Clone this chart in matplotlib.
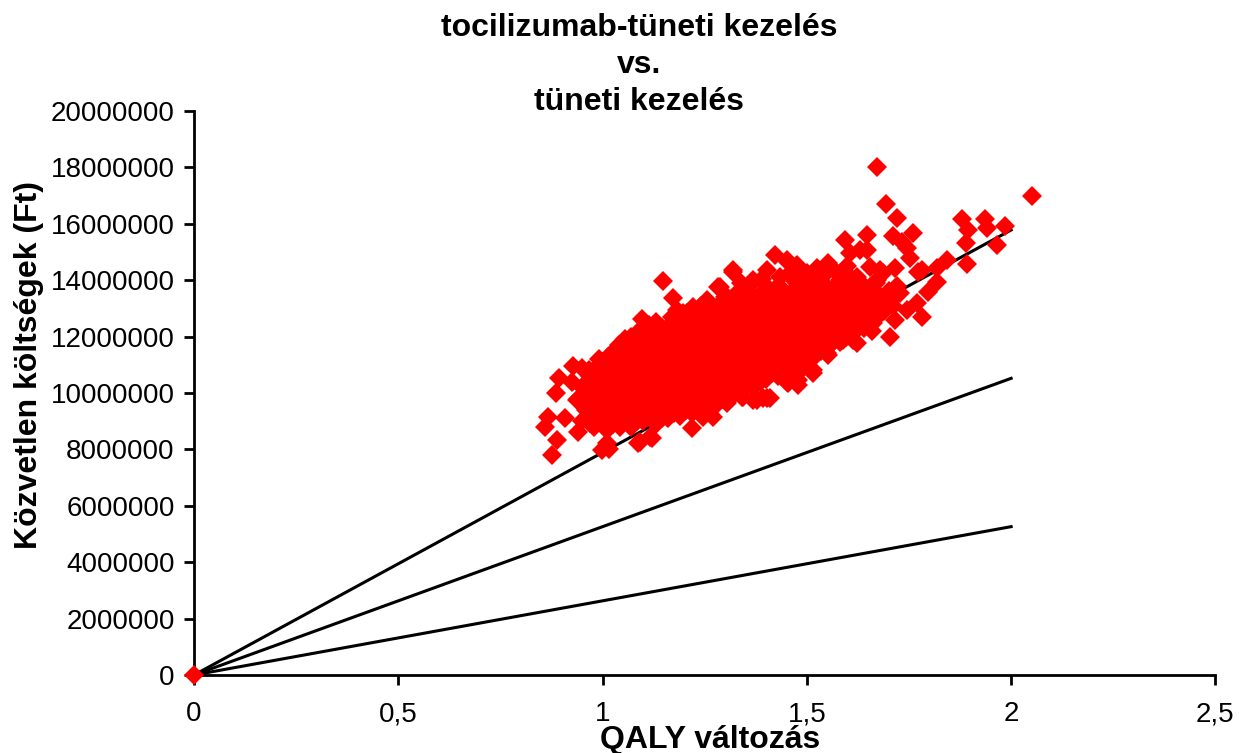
import numpy as np
import matplotlib
matplotlib.use("Agg")
import matplotlib.pyplot as plt

plt.rcParams['font.family'] = ['Liberation Sans', 'DejaVu Sans']

# QALY change (x) and direct cost in million Ft (y)
# dense middle of the cloud, column by column
core_qaly = [0.95, 0.96, 0.94, 0.95, 0.97, 0.95,
             0.98, 0.99, 0.98, 0.97, 0.99, 0.98, 0.99,
             1.01, 1.02, 1.00, 1.01, 1.02, 1.01, 1.00, 1.02,
             1.04, 1.05, 1.04, 1.03, 1.05, 1.04, 1.05, 1.04,
             1.07, 1.08, 1.07, 1.06, 1.08, 1.07, 1.08, 1.06, 1.07,
             1.10, 1.11, 1.10, 1.09, 1.11, 1.10, 1.11, 1.10, 1.09,
             1.13, 1.14, 1.13, 1.12, 1.14, 1.13, 1.12, 1.14, 1.13, 1.13,
             1.16, 1.17, 1.16, 1.15, 1.17, 1.16, 1.17, 1.15, 1.16, 1.17,
             1.19, 1.20, 1.19, 1.18, 1.20, 1.19, 1.18, 1.20, 1.19, 1.18,
             1.22, 1.23, 1.22, 1.21, 1.23, 1.22, 1.21, 1.23, 1.22, 1.23,
             1.25, 1.26, 1.25, 1.24, 1.26, 1.25, 1.24, 1.26, 1.25, 1.24,
             1.28, 1.29, 1.28, 1.27, 1.29, 1.28, 1.27, 1.29, 1.28, 1.29,
             1.31, 1.32, 1.31, 1.30, 1.32, 1.31, 1.30, 1.32, 1.31, 1.30,
             1.34, 1.35, 1.34, 1.33, 1.35, 1.34, 1.33, 1.35, 1.34, 1.35,
             1.37, 1.38, 1.37, 1.36, 1.38, 1.37, 1.36, 1.38, 1.37,
             1.40, 1.41, 1.40, 1.39, 1.41, 1.40, 1.39, 1.41, 1.40,
             1.43, 1.44, 1.43, 1.42, 1.44, 1.43, 1.42, 1.44, 1.43,
             1.46, 1.47, 1.46, 1.45, 1.47, 1.46, 1.45, 1.47, 1.46,
             1.49, 1.50, 1.49, 1.48, 1.50, 1.49, 1.48, 1.50,
             1.52, 1.53, 1.52, 1.51, 1.53, 1.52, 1.51, 1.53,
             1.55, 1.56, 1.55, 1.54, 1.56, 1.55, 1.54,
             1.58, 1.59, 1.58, 1.57, 1.59, 1.58,
             1.61, 1.62, 1.61, 1.60, 1.62,
             1.64, 1.65, 1.64, 1.63,
             1.68, 1.69, 1.67,
             1.71, 1.72]
core_cost = [9.0, 9.4, 9.8, 10.2, 10.6, 10.9,
             8.8, 9.2, 9.6, 10.0, 10.4, 10.8, 11.2,
             8.7, 9.1, 9.5, 9.9, 10.3, 10.7, 11.1, 11.4,
             8.9, 9.3, 9.7, 10.1, 10.5, 10.9, 11.3, 11.7,
             8.8, 9.2, 9.6, 10.0, 10.4, 10.8, 11.2, 11.6, 12.0,
             9.0, 9.4, 9.8, 10.2, 10.6, 11.0, 11.4, 11.8, 12.2,
             8.9, 9.3, 9.7, 10.1, 10.5, 10.9, 11.3, 11.7, 12.1, 12.5,
             9.1, 9.5, 9.9, 10.3, 10.7, 11.1, 11.5, 11.9, 12.3, 12.7,
             9.2, 9.6, 10.0, 10.4, 10.8, 11.2, 11.6, 12.0, 12.4, 12.8,
             9.3, 9.7, 10.1, 10.5, 10.9, 11.3, 11.7, 12.1, 12.5, 12.9,
             9.5, 9.9, 10.3, 10.7, 11.1, 11.5, 11.9, 12.3, 12.7, 13.1,
             9.6, 10.0, 10.4, 10.8, 11.2, 11.6, 12.0, 12.4, 12.8, 13.2,
             9.8, 10.2, 10.6, 11.0, 11.4, 11.8, 12.2, 12.6, 13.0, 13.4,
             10.1, 10.5, 10.9, 11.3, 11.7, 12.1, 12.5, 12.9, 13.3, 13.6,
             10.2, 10.6, 11.0, 11.4, 11.8, 12.2, 12.6, 13.0, 13.4,
             10.5, 10.9, 11.3, 11.7, 12.1, 12.5, 12.9, 13.3, 13.7,
             10.6, 11.0, 11.4, 11.8, 12.2, 12.6, 13.0, 13.4, 13.8,
             10.9, 11.3, 11.7, 12.1, 12.5, 12.9, 13.3, 13.7, 14.1,
             11.1, 11.5, 11.9, 12.3, 12.7, 13.1, 13.5, 13.9,
             11.3, 11.7, 12.1, 12.5, 12.9, 13.3, 13.7, 14.1,
             11.6, 11.9, 12.3, 12.7, 13.1, 13.5, 13.9,
             11.8, 12.2, 12.6, 13.0, 13.4, 13.8,
             12.1, 12.5, 12.9, 13.3, 13.7,
             12.3, 12.9, 13.4, 13.9,
             12.8, 13.3, 13.9,
             13.1, 13.8]

# more points of the dense middle, lying between the columns above
fill_qaly = [0.965, 0.962, 0.968, 0.964, 0.966,
             0.995, 0.993, 0.997, 0.994, 0.996, 0.995,
             1.025, 1.027, 1.023, 1.026, 1.024, 1.025, 1.027,
             1.055, 1.053, 1.057, 1.054, 1.056, 1.055, 1.053, 1.056,
             1.085, 1.087, 1.083, 1.086, 1.084, 1.085, 1.087, 1.084,
             1.115, 1.113, 1.117, 1.114, 1.116, 1.115, 1.113, 1.116, 1.114,
             1.145, 1.147, 1.143, 1.146, 1.144, 1.145, 1.147, 1.144, 1.146,
             1.175, 1.173, 1.177, 1.174, 1.176, 1.175, 1.173, 1.176, 1.174,
             1.205, 1.207, 1.203, 1.206, 1.204, 1.205, 1.207, 1.204, 1.206,
             1.235, 1.233, 1.237, 1.234, 1.236, 1.235, 1.233, 1.236, 1.234,
             1.265, 1.267, 1.263, 1.266, 1.264, 1.265, 1.267, 1.264, 1.266,
             1.295, 1.293, 1.297, 1.294, 1.296, 1.295, 1.293, 1.296, 1.294,
             1.325, 1.327, 1.323, 1.326, 1.324, 1.325, 1.327, 1.324, 1.326,
             1.355, 1.353, 1.357, 1.354, 1.356, 1.355, 1.353, 1.356,
             1.385, 1.387, 1.383, 1.386, 1.384, 1.385, 1.387, 1.384,
             1.415, 1.413, 1.417, 1.414, 1.416, 1.415, 1.413, 1.416,
             1.445, 1.447, 1.443, 1.446, 1.444, 1.445, 1.447, 1.444,
             1.475, 1.473, 1.477, 1.474, 1.476, 1.475, 1.473, 1.476,
             1.505, 1.507, 1.503, 1.506, 1.504, 1.505, 1.507,
             1.535, 1.533, 1.537, 1.534, 1.536, 1.535, 1.533,
             1.565, 1.567, 1.563, 1.566, 1.564, 1.565,
             1.595, 1.593, 1.597, 1.594, 1.596, 1.595,
             1.625, 1.627, 1.623, 1.626,
             1.655, 1.653, 1.657]
fill_cost = [9.2, 9.6, 10.0, 10.4, 10.8,
             9.0, 9.4, 9.8, 10.2, 10.6, 11.0,
             8.9, 9.3, 9.7, 10.1, 10.5, 10.9, 11.3,
             9.1, 9.5, 9.9, 10.3, 10.7, 11.1, 11.5, 11.9,
             9.0, 9.4, 9.8, 10.2, 10.6, 11.0, 11.4, 11.8,
             9.2, 9.6, 10.0, 10.4, 10.8, 11.2, 11.6, 12.0, 12.4,
             9.1, 9.5, 9.9, 10.3, 10.7, 11.1, 11.5, 11.9, 12.3,
             9.3, 9.7, 10.1, 10.5, 10.9, 11.3, 11.7, 12.1, 12.5,
             9.4, 9.8, 10.2, 10.6, 11.0, 11.4, 11.8, 12.2, 12.6,
             9.5, 9.9, 10.3, 10.7, 11.1, 11.5, 11.9, 12.3, 12.7,
             9.7, 10.1, 10.5, 10.9, 11.3, 11.7, 12.1, 12.5, 12.9,
             9.8, 10.2, 10.6, 11.0, 11.4, 11.8, 12.2, 12.6, 13.0,
             10.0, 10.4, 10.8, 11.2, 11.6, 12.0, 12.4, 12.8, 13.2,
             10.3, 10.7, 11.1, 11.5, 11.9, 12.3, 12.7, 13.1,
             10.4, 10.8, 11.2, 11.6, 12.0, 12.4, 12.8, 13.2,
             10.7, 11.1, 11.5, 11.9, 12.3, 12.7, 13.1, 13.5,
             10.8, 11.2, 11.6, 12.0, 12.4, 12.8, 13.2, 13.6,
             11.1, 11.5, 11.9, 12.3, 12.7, 13.1, 13.5, 13.9,
             11.3, 11.7, 12.1, 12.5, 12.9, 13.3, 13.7,
             11.5, 11.9, 12.3, 12.7, 13.1, 13.5, 13.9,
             11.8, 12.1, 12.5, 12.9, 13.3, 13.7,
             12.0, 12.4, 12.8, 13.2, 13.6, 14.0,
             12.3, 12.7, 13.1, 13.5,
             12.6, 13.0, 13.6]

# upper rim of the dense middle
upper_qaly = [1.369, 1.455, 1.476, 1.525, 1.655, 1.687, 1.288, 1.403, 1.435, 1.501,
              1.574, 1.623, 1.672, 1.340, 1.390, 1.460, 1.550, 1.600, 1.530, 1.580,
              1.640, 1.700, 1.690, 1.660]
upper_cost = [14.00, 14.65, 14.26, 14.43, 14.47, 14.26, 13.76, 14.36, 14.11, 14.26,
              14.26, 14.11, 14.00, 13.90, 14.05, 14.30, 14.30, 14.20, 14.10, 14.00,
              13.80, 13.60, 12.90, 12.20]

# ragged edge and stray points of the cloud
edge_qaly = [1.672, 2.052, 1.694, 1.721, 1.760, 1.711, 1.734, 1.746, 1.753, 1.880,
             1.895, 1.890, 1.937, 1.941, 1.986, 1.966, 1.893, 1.844, 1.819, 1.783,
             1.819, 1.797, 1.770, 1.783, 1.746, 1.716, 1.704, 1.716, 1.648, 1.594,
             1.606, 1.599, 1.631, 1.680, 1.729, 1.672, 1.655, 1.614, 1.599, 1.663,
             1.423, 1.452, 1.476, 1.552, 1.525, 1.773, 1.623, 1.552, 1.513, 1.479,
             1.454, 1.410, 1.491, 1.320, 1.369, 1.648, 1.721, 1.660, 1.589, 1.501,
             1.516, 1.484, 1.452, 1.479, 1.393, 1.369, 1.342, 1.305, 1.631, 1.663,
             1.148, 1.173, 1.097, 1.183, 1.124, 1.283, 1.014, 1.048, 0.928, 0.894,
             0.926, 0.886, 0.970, 0.938, 0.867, 0.908, 0.859, 0.889, 0.877, 0.940,
             0.999, 1.015, 0.970, 1.019, 1.092, 1.121, 1.219, 1.246, 1.271, 1.068,
             1.036, 0.987, 0.962, 0.987, 1.026, 1.075, 1.068, 1.117, 1.158, 1.207,
             1.232, 1.256, 1.305, 1.320, 1.403, 1.197, 1.222, 1.256, 1.330, 1.374,
             1.087, 1.117, 1.344, 1.379, 1.403, 1.452, 1.516, 1.491, 1.550, 1.589,
             1.011, 1.158, 1.239, 1.043, 1.019]
edge_cost = [18.00, 17.00, 16.70, 16.21, 15.67, 15.57, 15.35, 15.14, 14.79, 16.17,
             15.78, 15.32, 16.17, 15.85, 15.92, 15.25, 14.57, 14.72, 14.43, 14.36,
             13.94, 13.58, 13.19, 12.70, 12.94, 12.59, 11.99, 14.43, 15.60, 15.43,
             14.96, 14.50, 15.07, 14.36, 13.55, 13.55, 13.05, 11.88, 12.23, 12.48,
             14.89, 14.72, 14.54, 14.61, 14.36, 14.29, 11.77, 11.35, 10.82, 10.46,
             10.35, 9.82, 11.28, 14.29, 13.94, 15.07, 13.55, 12.66, 12.06, 11.28,
             10.82, 10.92, 10.46, 10.28, 9.82, 9.75, 9.86, 9.65, 12.70, 13.19,
             13.97, 13.37, 12.62, 12.94, 12.30, 13.76, 11.28, 11.52, 10.96, 10.53,
             10.39, 10.00, 10.21, 9.75, 9.15, 9.11, 8.79, 8.33, 7.80, 8.62,
             7.98, 8.00, 8.94, 8.94, 8.26, 8.40, 8.76, 9.15, 9.15, 9.04,
             9.40, 9.50, 10.00, 10.53, 10.82, 11.17, 11.63, 11.88, 12.30, 12.84,
             12.94, 13.05, 13.40, 14.36, 13.76, 12.84, 13.05, 13.30, 13.55, 13.40,
             8.23, 8.44, 9.86, 9.75, 9.82, 10.39, 10.71, 10.89, 11.42, 11.88,
             8.23, 9.15, 9.40, 8.79, 9.50]

# threshold lines from the origin, cost at QALY = 2 (million Ft)
line_x_end = 2.0
line_cost_end = [15.78, 10.52, 5.26]

xtick_vals = [0, 0.5, 1, 1.5, 2, 2.5]
xtick_labels = ['0', '0,5', '1', '1,5', '2', '2,5']
ytick_vals = [0, 2, 4, 6, 8, 10, 12, 14, 16, 18, 20]

fig = plt.figure(figsize=(12.44, 7.53), dpi=100)
ax = fig.add_axes([0.156, 0.1036, 0.821, 0.749])

for c in line_cost_end:
    ax.plot([0, line_x_end], [0, c * 1e6], color='black', lw=2.2, zorder=2)

qaly = np.array(core_qaly + fill_qaly + upper_qaly + edge_qaly)
cost = np.array(core_cost + fill_cost + upper_cost + edge_cost) * 1e6
ax.plot(qaly, cost, 'D', color='red', ms=10, mew=0, ls='none', zorder=3)
ax.plot([0], [0], 'D', color='red', ms=10, mew=0, clip_on=False, zorder=4)

ax.set_xlim(0, 2.5)
ax.set_ylim(0, 20e6)
ax.set_xticks(xtick_vals)
ax.set_xticklabels(xtick_labels)
ax.set_yticks([v * 1e6 for v in ytick_vals])
ax.set_yticklabels([str(int(v * 1e6)) for v in ytick_vals])

for s in ['top', 'right']:
    ax.spines[s].set_visible(False)
for s in ['left', 'bottom']:
    ax.spines[s].set_linewidth(2)
ax.tick_params(direction='out', length=7, width=2, labelsize=20)
ax.tick_params(axis='x', pad=12)
ax.tick_params(axis='y', pad=7)

fig.text(0.514, 0.983, 'tocilizumab-tüneti kezelés\nvs.\ntüneti kezelés',
         ha='center', va='top', fontsize=23, fontweight='bold', linespacing=1.3)
fig.text(0.023, 0.515, 'Közvetlen költségek (Ft)', rotation=90,
         ha='center', va='center', fontsize=23, fontweight='bold')
fig.text(0.571, 0.017, 'QALY változás', ha='center', va='center',
         fontsize=23, fontweight='bold')

fig.savefig('out.png', dpi=100)
